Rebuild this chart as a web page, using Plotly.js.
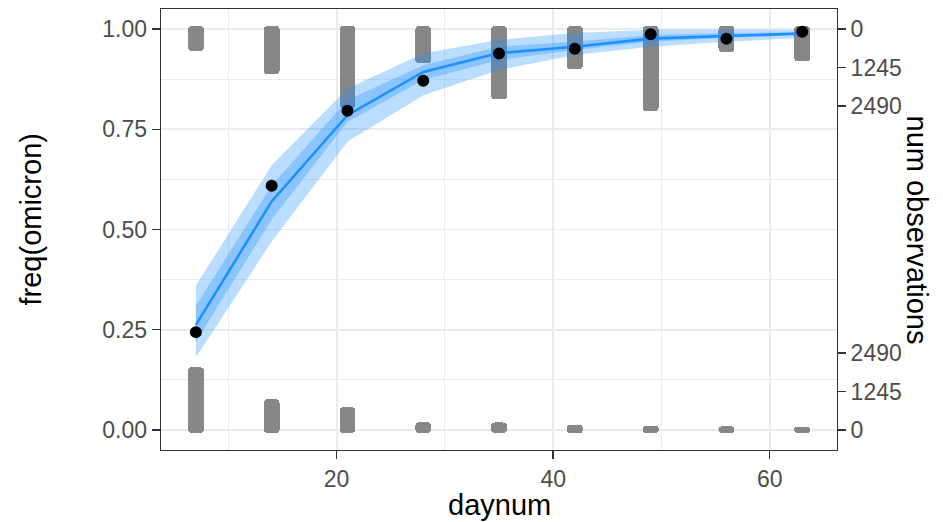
<!DOCTYPE html>
<html>
<head>
<meta charset="utf-8">
<script src="https://cdn.plot.ly/plotly-3.0.1.min.js"></script>
<style>html,body{margin:0;padding:0;background:#fff;}#chart{width:943px;height:522px;}</style>
</head>
<body>
<div id="chart"></div>
<script>
// ---- data ----
const daynum = [7, 14, 21, 28, 35, 42, 49, 56, 63];
const freqObserved = [0.244, 0.609, 0.796, 0.871, 0.939, 0.951, 0.987, 0.976, 0.993];
const fitMean = [0.262, 0.570, 0.785, 0.893, 0.940, 0.956, 0.976, 0.983, 0.989];
const innerLower = [0.220, 0.525, 0.769, 0.873, 0.923, 0.948, 0.968, 0.978, 0.985];
const innerUpper = [0.310, 0.610, 0.823, 0.910, 0.956, 0.968, 0.985, 0.990, 0.992];
const outerLower = [0.181, 0.470, 0.719, 0.835, 0.898, 0.935, 0.956, 0.968, 0.978];
const outerUpper = [0.360, 0.660, 0.852, 0.939, 0.973, 0.990, 0.998, 0.999, 0.998];
const countOmicron = [605, 1360, 2460, 1010, 2180, 1205, 2555, 655, 950];   // drawn from the top
const countOther = [1930, 895, 635, 150, 145, 62, 35, 16, 6];            // drawn from the bottom
const countTicks = [0, 1245, 2490];
const leftTicks = [0, 0.25, 0.5, 0.75, 1];
const xTicks = [20, 40, 60];
const xTitle = "daynum";
const yTitle = "freq(omicron)";
const y2Title = "num observations";

// ---- scales / styles ----
const countScale = 0.192 / 2490;   // counts -> freq units
const capPad = 0.0075;             // rounded end padding of count bars
const font = "Liberation Sans, Arial, sans-serif";
const barGrey = "#878787";
const blue = "#1E90FF";
const ribbon = "rgba(30,144,255,0.3)";
const tickFont = {family: font, size: 23, color: "#4d4d4d"};
const titleFont = {family: font, size: 29, color: "#000"};

const topBase = daynum.map(() => 1 + capPad);
const topLen = countOmicron.map(c => -(c * countScale + 2 * capPad));
const botBase = daynum.map(() => -capPad);
const botLen = countOther.map(c => c * countScale + 2 * capPad);

const rightVals = countTicks.map(c => 1 - c * countScale).concat(countTicks.map(c => c * countScale));
const rightText = countTicks.map(String).concat(countTicks.map(String));

const traces = [
  {type: "bar", x: daynum, y: topLen, base: topBase, width: 1.47,
   marker: {color: barGrey, cornerradius: 4, line: {width: 0}}, hoverinfo: "skip", showlegend: false},
  {type: "bar", x: daynum, y: botLen, base: botBase, width: 1.47,
   marker: {color: barGrey, cornerradius: 4, line: {width: 0}}, hoverinfo: "skip", showlegend: false},
  {type: "scatter", mode: "lines", x: daynum, y: outerLower, line: {width: 0}, hoverinfo: "skip", showlegend: false},
  {type: "scatter", mode: "lines", x: daynum, y: outerUpper, line: {width: 0}, fill: "tonexty", fillcolor: ribbon, hoverinfo: "skip", showlegend: false},
  {type: "scatter", mode: "lines", x: daynum, y: innerLower, line: {width: 0}, hoverinfo: "skip", showlegend: false},
  {type: "scatter", mode: "lines", x: daynum, y: innerUpper, line: {width: 0}, fill: "tonexty", fillcolor: ribbon, hoverinfo: "skip", showlegend: false},
  {type: "scatter", mode: "lines", x: daynum, y: fitMean, line: {color: blue, width: 2.6}, hoverinfo: "skip", showlegend: false},
  {type: "scatter", mode: "markers", x: daynum, y: freqObserved, marker: {color: "#000", size: 12}, hoverinfo: "skip", showlegend: false},
  // invisible anchor so the right-hand count axis is drawn
  {type: "scatter", mode: "markers", x: [daynum[0]], y: [freqObserved[0]], yaxis: "y2",
   marker: {opacity: 0}, hoverinfo: "skip", showlegend: false}
];

const yRange = [-0.05, 1.05];
const layout = {
  width: 943, height: 522,
  margin: {l: 161, r: 106, t: 9, b: 72},
  paper_bgcolor: "#fff", plot_bgcolor: "#fff",
  barmode: "overlay", bargap: 0,
  showlegend: false, hovermode: false,
  font: {family: font, color: "#000"},
  xaxis: {
    range: [3.78, 66.21], tickvals: xTicks, ticks: "outside", ticklen: 8, tickwidth: 1.4, tickcolor: "#333",
    tickfont: tickFont,
    showgrid: true, gridcolor: "#ebebeb", gridwidth: 1.8,
    minor: {dtick: 10, tick0: 0, showgrid: true, gridcolor: "#ebebeb", gridwidth: 1, ticks: ""},
    zeroline: false, showline: true, linecolor: "#333", linewidth: 1.4, mirror: true
  },
  yaxis: {
    range: yRange, tickvals: leftTicks, tickformat: ".2f", ticks: "outside", ticklen: 8, tickwidth: 1.4, tickcolor: "#333",
    tickfont: tickFont,
    showgrid: true, gridcolor: "#ebebeb", gridwidth: 1.8,
    minor: {dtick: 0.125, tick0: 0, showgrid: true, gridcolor: "#ebebeb", gridwidth: 1, ticks: ""},
    zeroline: false, showline: true, linecolor: "#333", linewidth: 1.4, mirror: true
  },
  yaxis2: {
    overlaying: "y", side: "right", range: yRange,
    tickvals: rightVals, ticktext: rightText, ticks: "outside", ticklen: 8, tickwidth: 1.4, tickcolor: "#333",
    tickfont: tickFont,
    showgrid: false, zeroline: false, showline: false
  },
  annotations: [
    {text: xTitle, xref: "paper", yref: "paper", x: 0.5, y: 0, xanchor: "center", yanchor: "middle",
     yshift: -55, showarrow: false, font: titleFont},
    {text: yTitle, xref: "paper", yref: "paper", x: 0, y: 0.5, xanchor: "center", yanchor: "middle",
     xshift: -131, yshift: 10, textangle: -90, showarrow: false, font: titleFont},
    {text: y2Title, xref: "paper", yref: "paper", x: 1, y: 0.5, xanchor: "center", yanchor: "middle",
     xshift: 80, textangle: 90, showarrow: false, font: titleFont}
  ]
};

Plotly.newPlot("chart", traces, layout, {displayModeBar: false, staticPlot: true});
</script>
</body>
</html>
